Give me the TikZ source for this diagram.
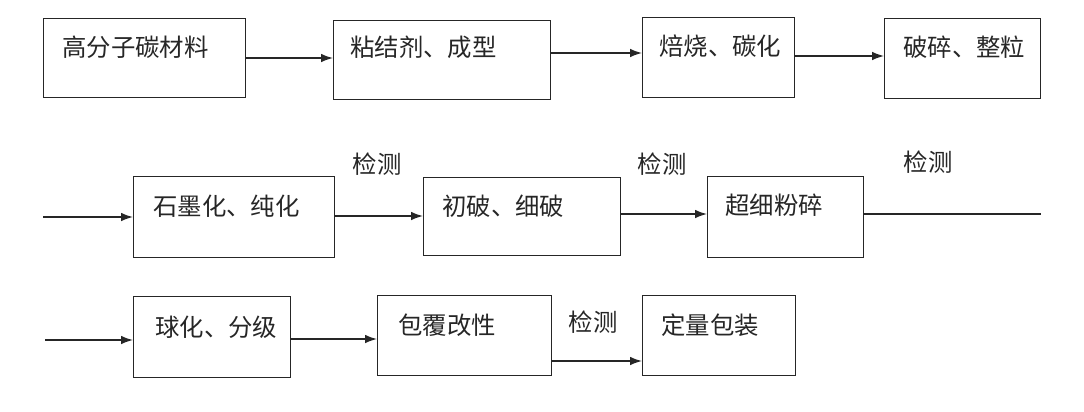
\documentclass[tikz,border=0pt]{standalone}
\usepackage{fontspec}
\setmainfont{Noto Sans CJK SC}
\usetikzlibrary{arrows.meta}
\begin{document}
\begin{tikzpicture}[x=0.75pt,y=-0.75pt,
  box/.style={draw=black!85,line width=1.1pt,inner sep=0pt,anchor=north west},
  txt/.style={inner sep=0pt,anchor=west,font=\fontsize{18.3}{22}\selectfont,text=black!85},
  lbl/.style={inner sep=0pt,font=\fontsize{18.3}{22}\selectfont,text=black!85},
  arr/.style={draw=black!85,line width=1.1pt,-{Latex[length=9pt,width=6.5pt]}},
  ln/.style={draw=black!85,line width=1.1pt}]
\useasboundingbox (0,0) rectangle (1084,411);
% row 1
\node[box,minimum width=202*0.75pt,minimum height=79*0.75pt] (b1) at (43,18) {};
\node[txt] (t1) at (62,47) {高分子碳材料};
\node[box,minimum width=217*0.75pt,minimum height=79*0.75pt] (b2) at (333,20) {};
\node[txt] (t2) at (350,47) {粘结剂、成型};
\node[box,minimum width=152*0.75pt,minimum height=80*0.75pt] (b3) at (642,17) {};
\node[txt] (t3) at (659,46) {焙烧、碳化};
\node[box,minimum width=156*0.75pt,minimum height=80*0.75pt] (b4) at (884,18) {};
\node[txt] (t4) at (903,47) {破碎、整粒};
\draw[arr] (b1.east |- 0,58) -- (b2.west |- 0,58);
\draw[arr] (b2.east |- 0,53) -- (b3.west |- 0,53);
\draw[arr] (b3.east |- 0,56) -- (b4.west |- 0,56);
% row 2
\coordinate (s2) at (43,217);
\node[box,minimum width=201*0.75pt,minimum height=81*0.75pt] (b5) at (133,176) {};
\node[txt] (t5) at (153,206) {石墨化、纯化};
\node[box,minimum width=197*0.75pt,minimum height=78*0.75pt] (b6) at (423,177) {};
\node[txt] (t6) at (442,206) {初破、细破};
\node[box,minimum width=156*0.75pt,minimum height=81*0.75pt] (b7) at (707,176) {};
\node[txt] (t7) at (725,205) {超细粉碎};
\coordinate (e2) at (1041,214);
\node[lbl] (l1) at (377,164) {检测};
\node[lbl] (l2) at (662,164) {检测};
\node[lbl] (l3) at (928,162) {检测};
\draw[arr] (s2) -- (b5.west |- s2);
\draw[arr] (b5.east |- 0,216) -- (b6.west |- 0,216);
\draw[arr] (b6.east |- 0,214) -- (b7.west |- 0,214);
\draw[ln] (b7.east |- e2) -- (e2);
% row 3
\coordinate (s3) at (45,340);
\node[box,minimum width=157*0.75pt,minimum height=81*0.75pt] (b8) at (133,296) {};
\node[txt] (t8) at (155,327) {球化、分级};
\node[box,minimum width=174*0.75pt,minimum height=80*0.75pt] (b9) at (377,295) {};
\node[txt] (t9) at (398,325) {包覆改性};
\node[box,minimum width=153*0.75pt,minimum height=80*0.75pt] (b10) at (642,295) {};
\node[txt] (t10) at (661,325) {定量包装};
\node[lbl] (l4) at (593,322) {检测};
\draw[arr] (s3) -- (b8.west |- s3);
\draw[arr] (b8.east |- 0,339) -- (b9.west |- 0,339);
\draw[arr] (b9.east |- 0,361) -- (b10.west |- 0,361);
\end{tikzpicture}
\end{document}
